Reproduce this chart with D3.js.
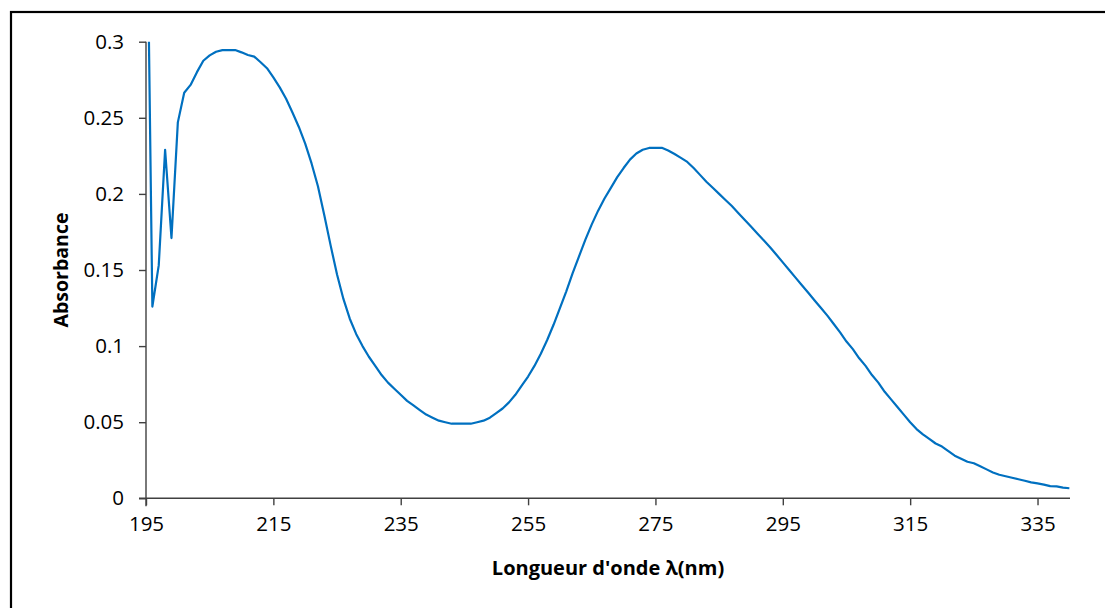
<!DOCTYPE html>
<html>
<head>
<meta charset="utf-8">
<script src="https://cdn.jsdelivr.net/npm/d3@7"></script>
<style>
  body { margin: 0; background: #fff; }
  text { font-family: "Open Sans", "Noto Sans", sans-serif; fill: #000; }
</style>
</head>
<body>
<svg id="chart" width="1105" height="608"></svg>
<script>
// wavelengths, 1 nm step
var wavelengths = d3.range(195, 341);

// absorbance, one value per nm (195 ... 340)
var absorbance = [
  0.450, 0.126, 0.153, 0.229, 0.171, 0.247, 0.2665, 0.2716, 0.280, 0.2875,   // 195-204
  0.291, 0.2934, 0.2945, 0.2945, 0.2945, 0.2930, 0.2913, 0.2902, 0.2865, 0.2826, // 205-214
  0.2765, 0.270, 0.2625, 0.2535, 0.244, 0.233, 0.220, 0.205, 0.186, 0.166,    // 215-224
  0.147, 0.131, 0.118, 0.108, 0.100, 0.093, 0.087, 0.081, 0.076, 0.072,       // 225-234
  0.068, 0.064, 0.061, 0.058, 0.055, 0.053, 0.051, 0.050, 0.049, 0.049,       // 235-244
  0.049, 0.049, 0.050, 0.051, 0.053, 0.056, 0.059, 0.063, 0.068, 0.074,       // 245-254
  0.080, 0.087, 0.095, 0.104, 0.114, 0.125, 0.136, 0.148, 0.159, 0.170,       // 255-264
  0.180, 0.189, 0.197, 0.204, 0.211, 0.217, 0.2225, 0.2265, 0.229, 0.2302,    // 265-274
  0.2303, 0.2303, 0.2285, 0.2262, 0.2237, 0.221, 0.217, 0.2125, 0.208, 0.204, // 275-284
  0.200, 0.196, 0.192, 0.1875, 0.183, 0.1785, 0.174, 0.1695, 0.165, 0.160,    // 285-294
  0.155, 0.150, 0.145, 0.140, 0.135, 0.130, 0.125, 0.120, 0.1145, 0.109,      // 295-304
  0.103, 0.098, 0.092, 0.087, 0.081, 0.076, 0.070, 0.065, 0.060, 0.055,       // 305-314
  0.050, 0.0455, 0.042, 0.039, 0.036, 0.034, 0.031, 0.028, 0.026, 0.024,      // 315-324
  0.023, 0.021, 0.019, 0.017, 0.0155, 0.0145, 0.0135, 0.0125, 0.0115, 0.0105, // 325-334
  0.0098, 0.009, 0.008, 0.0078, 0.007, 0.0066                                 // 335-340
];

var xTicks = [195, 215, 235, 255, 275, 295, 315, 335];
var yTicks = [0, 0.05, 0.1, 0.15, 0.2, 0.25, 0.3];

var svg = d3.select("#chart");

// plot box (named so they don't clash with window.top)
var plotL = 146, plotR = 1070, plotT = 41.7, plotB = 498.3;

var x = d3.scaleLinear().domain([195, 340.1]).range([plotL, plotR]);
var y = d3.scaleLinear().domain([0, 0.3]).range([plotB, plotT]);

// outer frame (runs off the picture right and bottom)
svg.append("rect")
  .attr("x", 11).attr("y", 12)
  .attr("width", 1200).attr("height", 700)
  .attr("fill", "none")
  .attr("stroke", "#000")
  .attr("stroke-width", 2.2);

svg.append("clipPath").attr("id", "plotclip")
  .append("rect")
  .attr("x", plotL).attr("y", plotT)
  .attr("width", plotR - plotL).attr("height", plotB - plotT);

// y axis
var yAxis = svg.append("g")
  .attr("transform", "translate(" + plotL + ",0)")
  .call(d3.axisLeft(y).tickValues(yTicks).tickSize(7).tickPadding(15)
    .tickFormat(function(d) { return d3.format("~g")(d); }));

// x axis
var xAxis = svg.append("g")
  .attr("transform", "translate(0," + plotB + ")")
  .call(d3.axisBottom(x).tickValues(xTicks).tickSize(7).tickPadding(11));

svg.selectAll(".domain").attr("stroke", "#404040").attr("stroke-width", 1.4);
svg.selectAll(".tick line").attr("stroke", "#404040").attr("stroke-width", 1.4);
svg.selectAll(".tick text").attr("fill", "#000")
  .style("font-size", "20.5px").style("font-family", "'Open Sans', sans-serif");

// plain axis lines, no end caps from the domain path
yAxis.select(".domain").attr("d", "M0," + (plotB + 8) + "V" + plotT);
xAxis.select(".domain").attr("d", "M" + (plotL - 7) + ",0H" + plotR);

var line = d3.line()
  .x(function(d, i) { return x(wavelengths[i]); })
  .y(function(d) { return y(d); });

svg.append("path")
  .datum(absorbance)
  .attr("clip-path", "url(#plotclip)")
  .attr("fill", "none")
  .attr("stroke", "#0070C0")
  .attr("stroke-width", 2.2)
  .attr("stroke-linejoin", "round")
  .attr("d", line);

// axis titles
svg.append("text")
  .attr("x", (plotL + plotR) / 2)
  .attr("y", 575)
  .attr("text-anchor", "middle")
  .style("font-size", "20px")
  .style("font-weight", "bold")
  .text("Longueur d'onde \u03bb(nm)");

svg.append("text")
  .attr("transform", "translate(68,270) rotate(-90)")
  .attr("text-anchor", "middle")
  .style("font-size", "19.5px")
  .style("font-weight", "bold")
  .text("Absorbance");
</script>
</body>
</html>
